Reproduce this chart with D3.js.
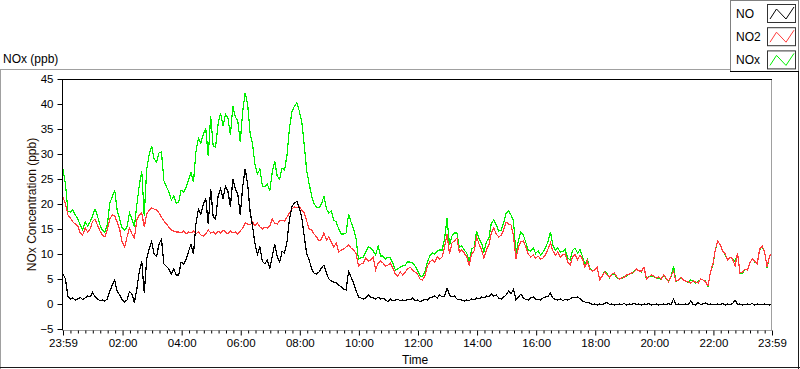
<!DOCTYPE html>
<html>
<head>
<meta charset="utf-8">
<script src="https://cdn.jsdelivr.net/npm/d3@7"></script>
<style>
  body { margin: 0; background: #fff; }
  svg { display: block; font-family: "Liberation Sans", Arial, sans-serif; }
  .tick text { font-size: 11.5px; fill: #000; }
</style>
</head>
<body>
<svg width="800" height="369"></svg>
<script>
// 5-minute samples starting at 23:59 of the previous day
const stepMin = 5;

const noSeries = [
  6.0, 5.0, 1.5, 1.0, 1.2, 0.8, 1.0, 1.3, 0.9, 1.2,
  1.6, 1.4, 2.3, 1.5, 1.0, 0.7, 0.8, 0.6, 1.0, 2.5,
  3.8, 4.8, 2.5, 1.8, 0.9, 0.4, 0.8, 2.5, 2.0, 0.3,
  3.0, 6.5, 8.5, 2.2, 9.0, 11.0, 12.5, 10.0, 9.5, 12.0,
  13.0, 8.0, 7.5, 7.0, 6.0, 7.0, 5.8, 5.8, 8.4, 8.0,
  9.0, 10.5, 12.0, 10.0, 16.0, 19.0, 18.0, 20.0, 21.0, 16.0,
  23.0, 17.5, 17.0, 21.5, 23.0, 21.0, 23.5, 22.5, 19.5, 25.0,
  23.0, 22.0, 17.8, 23.5, 27.0, 24.0, 18.5, 15.5, 12.0, 10.0,
  11.4, 8.5, 8.0, 8.8, 7.2, 9.5, 12.0, 9.5, 8.4, 10.5,
  10.2, 12.5, 17.0, 19.5, 20.2, 20.5, 19.2, 17.2, 13.5, 10.0,
  8.8, 7.0, 6.2, 6.0, 6.4, 7.2, 7.8, 6.2, 5.0, 4.6,
  4.4, 4.2, 3.8, 3.4, 3.0, 2.8, 6.5, 5.4, 4.2, 2.8,
  1.4, 1.2, 1.0, 1.2, 1.8, 1.4, 1.2, 1.0, 1.4, 1.0,
  1.2, 0.8, 0.5, 1.0, 0.6, 0.8, 0.9, 0.7, 0.8, 0.6,
  0.9, 0.8, 1.2, 0.6, 0.8, 0.5, 0.7, 0.9, 0.8, 1.2,
  1.4, 1.6, 1.2, 1.8, 1.4, 1.6, 3.2, 1.8, 1.4, 1.6,
  1.0, 0.9, 0.8, 0.6, 0.8, 0.7, 1.0, 0.8, 1.2, 1.0,
  1.4, 1.2, 1.6, 1.4, 2.0, 1.6, 1.8, 1.2, 1.0, 1.4,
  1.8, 2.6, 2.0, 3.0, 0.8, 1.4, 2.0, 1.2, 0.9, 0.8,
  1.2, 1.4, 0.9, 1.0, 0.8, 1.2, 1.4, 1.5, 2.2, 1.2,
  0.9, 0.8, 1.0, 0.7, 0.9, 0.8, 1.0, 1.3, 1.2, 1.4,
  1.1, 0.6, 0.4, 0.3, 0.2, -0.1, 0.0, -0.2, 0.0, -0.1,
  0.1, 0.3, -0.1, 0.0, -0.2, -0.1, 0.0, -0.1, 0.1, -0.2,
  0.0, -0.1, 0.2, -0.1, 0.0, -0.2, 0.0, -0.1, 0.1, -0.2,
  -0.1, 0.0, -0.2, -0.1, 0.0, -0.1, 0.1, -0.1, 1.0, -0.1,
  0.0, -0.2, -0.1, 0.0, -0.1, 0.6, -0.1, -0.2, 0.3, -0.1,
  0.0, 0.2, -0.1, 0.0, -0.2, -0.1, 0.0, -0.1, 0.1, -0.2,
  0.0, -0.1, 0.1, 0.8, -0.1, 0.0, -0.2, -0.1, 0.0, -0.1,
  0.1, -0.2, 0.0, -0.1, -0.2, 0.0, -0.1, -0.2, -0.1
];

const no2Series = [
  21.4, 20.0, 17.8, 17.2, 16.4, 16.0, 15.6, 14.2, 13.8, 15.2,
  14.4, 15.0, 16.5, 17.0, 15.8, 14.6, 13.8, 13.4, 14.8, 17.0,
  17.8, 17.6, 16.4, 15.0, 12.5, 11.4, 13.4, 15.2, 14.0, 13.2,
  16.8, 17.8, 18.2, 15.4, 18.0, 18.8, 19.2, 19.0, 18.8, 18.2,
  17.4, 16.6, 16.0, 15.4, 14.8, 14.6, 14.4, 14.4, 14.2, 14.6,
  14.0, 14.4, 14.2, 14.6, 14.0, 14.4, 13.8, 13.6, 14.0, 14.8,
  14.2, 14.4, 14.0, 14.6, 14.2, 14.8, 14.4, 14.0, 14.6, 14.2,
  14.4, 14.0, 14.6, 15.2, 16.2, 16.0, 15.8, 16.4, 15.6, 16.2,
  15.4, 15.0, 15.4, 15.2, 15.6, 17.0, 16.2, 16.0, 16.6, 16.8,
  16.6, 17.4, 18.2, 19.0, 19.4, 19.2, 19.4, 18.8, 18.2, 16.6,
  15.0, 14.8, 14.0, 13.4, 12.6, 13.0, 14.2, 12.8, 13.4, 12.4,
  11.4, 12.2, 10.4, 10.8, 11.0, 11.4, 11.8, 11.2, 10.8, 10.2,
  7.6, 8.0, 8.2, 9.2, 8.6, 8.8, 9.4, 6.8, 8.2, 8.6,
  8.2, 7.6, 7.8, 8.2, 7.2, 6.0, 5.6, 6.4, 5.8, 6.4,
  7.0, 7.4, 6.8, 6.4, 6.0, 5.0, 4.8, 5.6, 7.6, 8.4,
  8.8, 8.4, 9.4, 9.0, 9.4, 11.4, 14.0, 10.0, 12.2, 12.6,
  13.2, 10.4, 10.8, 10.2, 9.4, 7.8, 10.0, 10.6, 13.4, 12.0,
  10.8, 9.2, 10.8, 11.8, 14.2, 15.2, 14.0, 13.4, 13.8, 14.8,
  16.4, 16.0, 15.8, 13.6, 9.0, 11.4, 12.4, 12.6, 11.4, 10.0,
  9.4, 9.8, 9.2, 9.6, 9.0, 9.2, 9.8, 11.0, 12.2, 10.6,
  9.8, 10.4, 9.4, 9.8, 10.0, 8.4, 7.8, 9.4, 10.0, 8.8,
  9.8, 9.0, 7.4, 8.6, 7.0, 6.6, 6.8, 7.4, 4.8, 5.6,
  6.4, 5.8, 5.4, 6.0, 6.2, 5.4, 5.0, 5.2, 5.4, 5.8,
  6.0, 6.2, 6.4, 7.0, 6.6, 6.6, 7.4, 5.0, 5.4, 5.8,
  5.6, 5.2, 5.4, 5.0, 5.8, 5.2, 4.4, 5.6, 6.6, 4.6,
  4.8, 5.4, 4.8, 4.6, 4.4, 4.2, 4.6, 4.4, 4.2, 5.0,
  4.8, 4.4, 3.6, 6.4, 8.0, 11.0, 12.6, 11.8, 10.6, 10.0,
  8.8, 9.4, 9.0, 7.6, 10.2, 6.2, 6.4, 7.0, 6.8, 8.2,
  9.0, 8.6, 8.0, 11.0, 11.6, 10.4, 7.4, 9.6, 10.2
];

const noxSeries = [
  27.0, 24.0, 18.6, 18.4, 18.8, 17.8, 17.0, 15.8, 14.8, 16.4,
  15.6, 16.4, 17.6, 19.0, 17.6, 15.8, 14.8, 14.4, 15.8, 20.2,
  21.4, 22.8, 18.8, 17.0, 15.2, 14.8, 15.4, 18.2, 17.0, 15.4,
  19.8, 23.8, 26.6, 17.6, 27.0, 29.8, 31.6, 29.0, 28.4, 30.2,
  30.4, 24.6, 23.5, 22.4, 20.8, 21.6, 20.2, 20.4, 22.8, 22.4,
  23.4, 24.8, 26.4, 24.4, 30.4, 33.2, 32.2, 34.0, 35.0, 29.6,
  37.6, 31.6, 31.4, 36.0, 38.2, 35.6, 38.0, 37.2, 33.8, 39.6,
  37.4, 36.6, 32.4, 38.6, 42.2, 40.0, 34.2, 32.0, 27.8, 26.0,
  27.0, 23.6, 23.4, 24.0, 22.6, 26.4, 28.6, 25.6, 25.0, 27.2,
  26.8, 29.8, 35.2, 38.4, 39.6, 40.2, 38.6, 36.4, 31.8, 26.6,
  24.0, 21.6, 20.0, 19.4, 19.2, 20.0, 21.6, 19.0, 18.2, 18.6,
  16.8, 16.4, 15.0, 14.0, 14.0, 14.2, 18.0, 16.4, 15.0, 13.2,
  9.0, 9.2, 9.4, 10.4, 11.4, 11.2, 10.6, 9.8, 11.6, 9.6,
  9.6, 9.0, 9.4, 9.2, 8.2, 6.8, 7.0, 7.4, 7.6, 7.8,
  8.4, 8.4, 8.2, 7.6, 6.8, 5.6, 5.5, 6.5, 8.4, 9.6,
  10.2, 10.0, 10.6, 10.8, 10.8, 13.0, 17.2, 11.8, 13.6, 14.2,
  14.2, 11.3, 11.6, 10.8, 10.2, 8.5, 11.0, 11.4, 14.6, 13.0,
  12.2, 10.4, 12.4, 13.2, 16.2, 16.8, 15.8, 14.6, 14.8, 16.2,
  18.2, 18.6, 17.8, 16.6, 9.8, 12.8, 14.4, 13.8, 12.3, 10.8,
  10.6, 11.2, 10.1, 10.6, 9.8, 10.4, 11.2, 12.5, 14.4, 11.8,
  10.7, 11.2, 10.4, 10.5, 10.9, 9.2, 8.8, 10.7, 11.2, 10.2,
  10.9, 9.6, 7.8, 8.9, 7.2, 6.5, 6.8, 7.2, 4.8, 5.5,
  6.5, 6.1, 5.3, 6.0, 6.0, 5.3, 5.0, 5.1, 5.5, 5.6,
  6.0, 6.1, 6.6, 6.9, 6.6, 6.4, 7.4, 4.9, 5.5, 5.6,
  5.5, 5.2, 5.2, 4.9, 5.8, 5.1, 4.5, 5.5, 7.6, 4.5,
  4.8, 5.2, 4.7, 4.6, 4.3, 4.8, 4.5, 4.2, 4.5, 4.9,
  4.8, 4.6, 3.5, 6.4, 7.8, 10.9, 12.6, 11.7, 10.7, 9.8,
  8.8, 9.3, 9.1, 8.4, 10.1, 6.2, 6.2, 6.9, 6.8, 8.1,
  9.1, 8.4, 8.0, 10.9, 11.4, 10.4, 7.3, 9.5, 10.1
];

// major ticks: minutes after 23:59 and their labels
const tickMinutes = [0, 121, 241, 361, 481, 601, 721, 841, 961, 1081, 1201, 1321, 1440];
const tickLabels = ["23:59", "02:00", "04:00", "06:00", "08:00", "10:00", "12:00",
                    "14:00", "16:00", "18:00", "20:00", "22:00", "23:59"];
const yTicks = [-5, 0, 5, 10, 15, 20, 25, 30, 35, 40, 45];

const seriesNames = ["NO", "NO2", "NOx"];
const seriesColors = ["#000000", "#ff3b3b", "#00f000"];

const svg = d3.select("svg");

// outer panel frame
svg.append("line").attr("x1", 0).attr("x2", 731).attr("y1", 69.5).attr("y2", 69.5).attr("stroke", "#a0a0a0");
svg.append("line").attr("x1", 0.5).attr("x2", 0.5).attr("y1", 69).attr("y2", 369).attr("stroke", "#a0a0a0");
svg.append("line").attr("x1", 0).attr("x2", 800).attr("y1", 367.5).attr("y2", 367.5).attr("stroke", "#1a1a1a");
svg.append("line").attr("x1", 798.5).attr("x2", 798.5).attr("y1", 0).attr("y2", 369).attr("stroke", "#1a1a1a");

svg.append("text")
    .attr("x", 3)
    .attr("y", 63)
    .attr("font-size", "12px")
    .text("NOx (ppb)");

const x = d3.scaleLinear().domain([0, 1440]).range([63, 772]);
const y = d3.scaleLinear().domain([-5, 45]).range([329, 79]);

// plot area
svg.append("rect")
    .attr("x", 62.5).attr("y", 79.5)
    .attr("width", 709).attr("height", 251)
    .attr("fill", "#fff")
    .attr("stroke", "#a0a0a0");
svg.append("line").attr("x1", 62).attr("x2", 772).attr("y1", 79.5).attr("y2", 79.5).attr("stroke", "#000");

svg.append("clipPath").attr("id", "plotClip")
    .append("rect").attr("x", 63).attr("y", 80).attr("width", 708).attr("height", 250);

const line = d3.line()
    .x((d, i) => x(i * stepMin))
    .y(d => y(d));

const plot = svg.append("g").attr("clip-path", "url(#plotClip)");
[[noxSeries, 2], [no2Series, 1], [noSeries, 0]].forEach(([vals, k]) => {
    plot.append("path")
        .datum(vals)
        .attr("fill", "none")
        .attr("stroke", seriesColors[k])
        .attr("stroke-width", 1.2)
        .attr("shape-rendering", "crispEdges")
        .attr("d", line);
});

// y axis
const yAxis = svg.append("g")
    .attr("transform", "translate(62.5,0)")
    .call(d3.axisLeft(y).tickValues(yTicks).tickSize(5).tickPadding(4).tickSizeOuter(0));
yAxis.select(".domain").attr("stroke", "#000").attr("d", "M0,79V330");
yAxis.selectAll(".tick line").attr("stroke", "#000");

svg.append("text")
    .attr("transform", "translate(36,204.5) rotate(-90)")
    .attr("text-anchor", "middle")
    .attr("font-size", "12px")
    .attr("fill", "#1a0a00")
    .text("NOx Concentration (ppb)");

// x axis: minor ticks every 15 minutes between major ticks
const minorMinutes = [];
for (let k = 0; k < tickMinutes.length - 1; k++) {
    const a = tickMinutes[k], b = tickMinutes[k + 1];
    for (let j = 1; j < 8; j++) minorMinutes.push(a + (b - a) * j / 8);
}
svg.append("g")
    .attr("transform", "translate(0,330.5)")
    .call(d3.axisBottom(x).tickValues(minorMinutes).tickSize(3).tickFormat(""))
    .call(g => g.select(".domain").remove())
    .selectAll(".tick line").attr("stroke", "#000");

const xAxis = svg.append("g")
    .attr("transform", "translate(0,330.5)")
    .call(d3.axisBottom(x).tickValues(tickMinutes).tickSize(5).tickPadding(3)
        .tickFormat((d, i) => tickLabels[i]));
xAxis.select(".domain").remove();
xAxis.selectAll(".tick line").attr("stroke", "#000");

svg.append("text")
    .attr("x", 402)
    .attr("y", 364)
    .attr("font-size", "12px")
    .text("Time");

// legend
const legend = svg.append("g");
legend.append("rect")
    .attr("x", 730.5).attr("y", 0.5)
    .attr("width", 68).attr("height", 71)
    .attr("fill", "#fff")
    .attr("stroke", "#808080");
legend.append("line").attr("x1", 730).attr("x2", 799).attr("y1", 71.5).attr("y2", 71.5).attr("stroke", "#000");

seriesNames.forEach((name, k) => {
    const top = 4 + k * 23.2;
    legend.append("text")
        .attr("x", 736)
        .attr("y", top + 13.5)
        .attr("font-size", "12px")
        .text(name);
    legend.append("rect")
        .attr("x", 767.5).attr("y", top + 0.5)
        .attr("width", 28).attr("height", 18)
        .attr("fill", "#fff")
        .attr("stroke", "#333");
    legend.append("path")
        .attr("d", `M770,${top + 15}L776.5,${top + 5}L786,${top + 15}L794,${top + 3}`)
        .attr("fill", "none")
        .attr("stroke", seriesColors[k]);
});
</script>
</body>
</html>
